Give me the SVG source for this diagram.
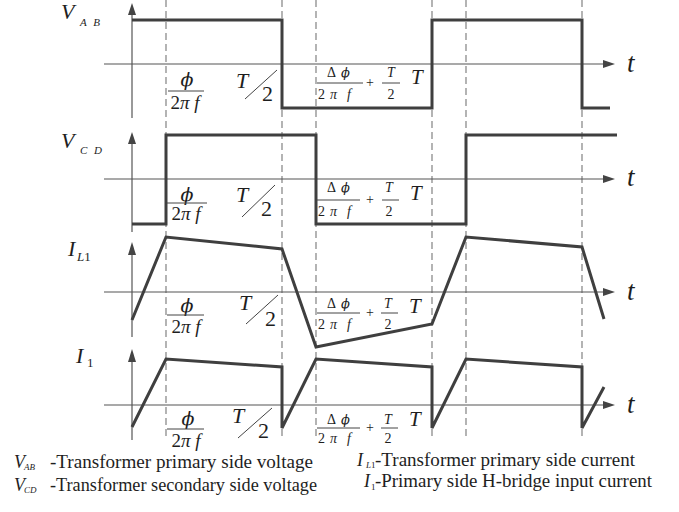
<svg xmlns="http://www.w3.org/2000/svg" width="679" height="512" viewBox="0 0 679 512" font-family="'Liberation Serif', 'Times New Roman', serif">
  <style>
    .wave { fill: none; stroke: #3f3f3f; stroke-width: 3; stroke-linejoin: miter; }
    .axis { fill: none; stroke: #555; stroke-width: 1.2; }
    .guide { fill: none; stroke: #8c8c8c; stroke-width: 1.3; stroke-dasharray: 7 4; }
    .bar { fill: none; stroke: #444; stroke-width: 1; }
    .head { fill: #444; }
    text { font-family: "Liberation Serif", "Times New Roman", serif; fill: #1e1e1e; }
    .it { font-style: italic; }
    .big { font-size: 22px; }
    .frac { font-size: 19px; }
    .phi { font-family: "DejaVu Serif", "Liberation Serif", serif; font-style: italic; font-size: 19px; }
    .phs { font-family: "DejaVu Serif", "Liberation Serif", serif; font-style: italic; font-size: 13px; }
    .sm { font-size: 14px; }
    .t { font-size: 27px; font-style: italic; }
    .leg { font-size: 18px; }
  </style>

  <!-- timing guides -->
  <g id="guides">
    <line class="guide" x1="166" y1="0" x2="166" y2="440"/>
    <line class="guide" x1="282" y1="0" x2="282" y2="440"/>
    <line class="guide" x1="316" y1="0" x2="316" y2="440"/>
    <line class="guide" x1="432" y1="0" x2="432" y2="440"/>
    <line class="guide" x1="466" y1="0" x2="466" y2="440"/>
    <line class="guide" x1="582" y1="0" x2="582" y2="440"/>
  </g>

  <!-- V_AB -->
  <g id="vab">
    <line class="axis" x1="132" y1="14" x2="132" y2="118"/>
    <polygon class="head" points="132,3 128,15 136,15"/>
    <line class="axis" x1="104" y1="64" x2="604" y2="64"/>
    <polygon class="head" points="615,64 603,60 603,68"/>
    <path class="wave" d="M132,20 H282 V108 H432 V20 H582 V108 H610"/>
    <text class="it big" x="61" y="19">V</text>
    <text class="it" x="80" y="26" font-size="11" letter-spacing="2">A B</text>
    <text class="t" x="627" y="72">t</text>
    <text class="phi" x="187" y="86" text-anchor="middle">ϕ</text>
    <line class="bar" x1="168" y1="91" x2="204" y2="91"/>
    <text class="frac" x="185" y="109" text-anchor="middle">2<tspan class="it">π f</tspan></text>
    <text class="it big" x="236" y="88">T</text>
    <line class="bar" x1="245" y1="99" x2="277" y2="70"/>
    <text class="big" x="262" y="101">2</text>
    <text class="sm" x="327" y="77">Δ</text>
    <text class="phs" x="341" y="77">ϕ</text>
    <line class="bar" x1="317" y1="83" x2="363" y2="83"/>
    <text class="sm" x="318" y="99">2</text>
    <text class="sm it" x="330" y="99">π</text>
    <text class="sm it" x="347" y="99">f</text>
    <text class="sm" x="366" y="87" font-size="13">+</text>
    <text class="sm it" x="391" y="77" text-anchor="middle">T</text>
    <line class="bar" x1="382" y1="83" x2="400" y2="83"/>
    <text class="sm" x="391" y="99" text-anchor="middle">2</text>
    <text class="it" x="411" y="84" font-size="21">T</text>
  </g>

  <!-- V_CD -->
  <g id="vcd">
    <line class="axis" x1="132" y1="142" x2="132" y2="232"/>
    <polygon class="head" points="132,132 128,144 136,144"/>
    <line class="axis" x1="104" y1="179" x2="604" y2="179"/>
    <polygon class="head" points="615,179 603,175 603,183"/>
    <path class="wave" d="M132,224 H166 V135 H316 V224 H466 V135 H617"/>
    <text class="it big" x="61" y="148">V</text>
    <text class="it" x="80" y="154" font-size="11" letter-spacing="2">C D</text>
    <text class="t" x="627" y="186">t</text>
    <text class="phi" x="187" y="201" text-anchor="middle">ϕ</text>
    <line class="bar" x1="167" y1="203" x2="207" y2="203"/>
    <text class="frac" x="186" y="220" text-anchor="middle">2<tspan class="it">π f</tspan></text>
    <text class="it big" x="236" y="202">T</text>
    <line class="bar" x1="242" y1="217" x2="275" y2="185"/>
    <text class="big" x="261" y="216">2</text>
    <text class="sm" x="327" y="192">Δ</text>
    <text class="phs" x="341" y="192">ϕ</text>
    <line class="bar" x1="317" y1="200" x2="360" y2="200"/>
    <text class="sm" x="318" y="216">2</text>
    <text class="sm it" x="330" y="216">π</text>
    <text class="sm it" x="347" y="216">f</text>
    <text class="sm" x="366" y="204" font-size="13">+</text>
    <text class="sm it" x="389" y="192" text-anchor="middle">T</text>
    <line class="bar" x1="382" y1="200" x2="399" y2="200"/>
    <text class="sm" x="389" y="216" text-anchor="middle">2</text>
    <text class="it" x="410" y="200" font-size="21">T</text>
  </g>

  <!-- I_L1 -->
  <g id="il1">
    <line class="axis" x1="132" y1="254" x2="132" y2="337"/>
    <polygon class="head" points="132,242 128,255 136,255"/>
    <line class="axis" x1="104" y1="292" x2="604" y2="292"/>
    <polygon class="head" points="615,292 603,288 603,296"/>
    <path class="wave" d="M132,320 L166,237 L282,249 L316,347 L432,324 L466,237 L582,247 L604,319"/>
    <text class="it big" x="68" y="256">I</text>
    <text x="77" y="261" font-size="13"><tspan class="it">L</tspan>1</text>
    <text class="t" x="627" y="300">t</text>
    <text class="phi" x="187" y="312" text-anchor="middle">ϕ</text>
    <line class="bar" x1="167" y1="315" x2="204" y2="315"/>
    <text class="frac" x="186" y="333" text-anchor="middle">2<tspan class="it">π f</tspan></text>
    <text class="it big" x="239" y="310">T</text>
    <line class="bar" x1="246" y1="324" x2="278" y2="295"/>
    <text class="big" x="265" y="326">2</text>
    <text class="sm" x="327" y="308">Δ</text>
    <text class="phs" x="341" y="308">ϕ</text>
    <line class="bar" x1="317" y1="313" x2="360" y2="313"/>
    <text class="sm" x="318" y="329">2</text>
    <text class="sm it" x="330" y="329">π</text>
    <text class="sm it" x="347" y="329">f</text>
    <text class="sm" x="366" y="317" font-size="13">+</text>
    <text class="sm it" x="388" y="308" text-anchor="middle">T</text>
    <line class="bar" x1="381" y1="313" x2="398" y2="313"/>
    <text class="sm" x="388" y="329" text-anchor="middle">2</text>
    <text class="it" x="409" y="313" font-size="21">T</text>
  </g>

  <!-- I_1 -->
  <g id="i1">
    <line class="axis" x1="132" y1="361" x2="132" y2="440"/>
    <polygon class="head" points="132,349 128,362 136,362"/>
    <line class="axis" x1="104" y1="405" x2="604" y2="405"/>
    <polygon class="head" points="615,405 603,401 603,409"/>
    <path class="wave" d="M132,427 L166,359 L282,367 V428 L316,359 L432,367 V428 L466,359 L582,367 V428 L604,387"/>
    <text class="it big" x="76" y="363">I</text>
    <text x="87" y="367" font-size="13">1</text>
    <text class="t" x="627" y="413">t</text>
    <text class="phi" x="188" y="425" text-anchor="middle">ϕ</text>
    <line class="bar" x1="167" y1="429" x2="204" y2="429"/>
    <text class="frac" x="186" y="447" text-anchor="middle">2<tspan class="it">π f</tspan></text>
    <text class="it big" x="232" y="423">T</text>
    <line class="bar" x1="238" y1="438" x2="272" y2="408"/>
    <text class="big" x="258" y="438">2</text>
    <text class="sm" x="327" y="424">Δ</text>
    <text class="phs" x="341" y="424">ϕ</text>
    <line class="bar" x1="317" y1="428" x2="360" y2="428"/>
    <text class="sm" x="318" y="443">2</text>
    <text class="sm it" x="330" y="443">π</text>
    <text class="sm it" x="347" y="443">f</text>
    <text class="sm" x="366" y="432" font-size="13">+</text>
    <text class="sm it" x="388" y="424" text-anchor="middle">T</text>
    <line class="bar" x1="381" y1="428" x2="398" y2="428"/>
    <text class="sm" x="388" y="443" text-anchor="middle">2</text>
    <text class="it" x="409" y="426" font-size="21">T</text>
  </g>

  <!-- legend -->
  <g id="legend">
    <text class="it leg" x="14" y="468">V</text>
    <text class="it" x="24" y="470" font-size="9">AB</text>
    <text class="leg" x="50" y="468" textLength="263" lengthAdjust="spacingAndGlyphs">-Transformer primary side voltage</text>
    <text class="it leg" x="14" y="491">V</text>
    <text class="it" x="24" y="493" font-size="9">CD</text>
    <text class="leg" x="50" y="491" textLength="267" lengthAdjust="spacingAndGlyphs">-Transformer secondary side voltage</text>
    <text class="it leg" x="357" y="466">I</text>
    <text x="366" y="468" font-size="9"><tspan class="it">L</tspan>1</text>
    <text class="leg" x="375" y="466" textLength="260" lengthAdjust="spacingAndGlyphs">-Transformer primary side current</text>
    <text class="it leg" x="364" y="487">I</text>
    <text x="371" y="490" font-size="9">1</text>
    <text class="leg" x="375" y="487" textLength="277" lengthAdjust="spacingAndGlyphs">-Primary side H-bridge input current</text>
  </g>
</svg>
